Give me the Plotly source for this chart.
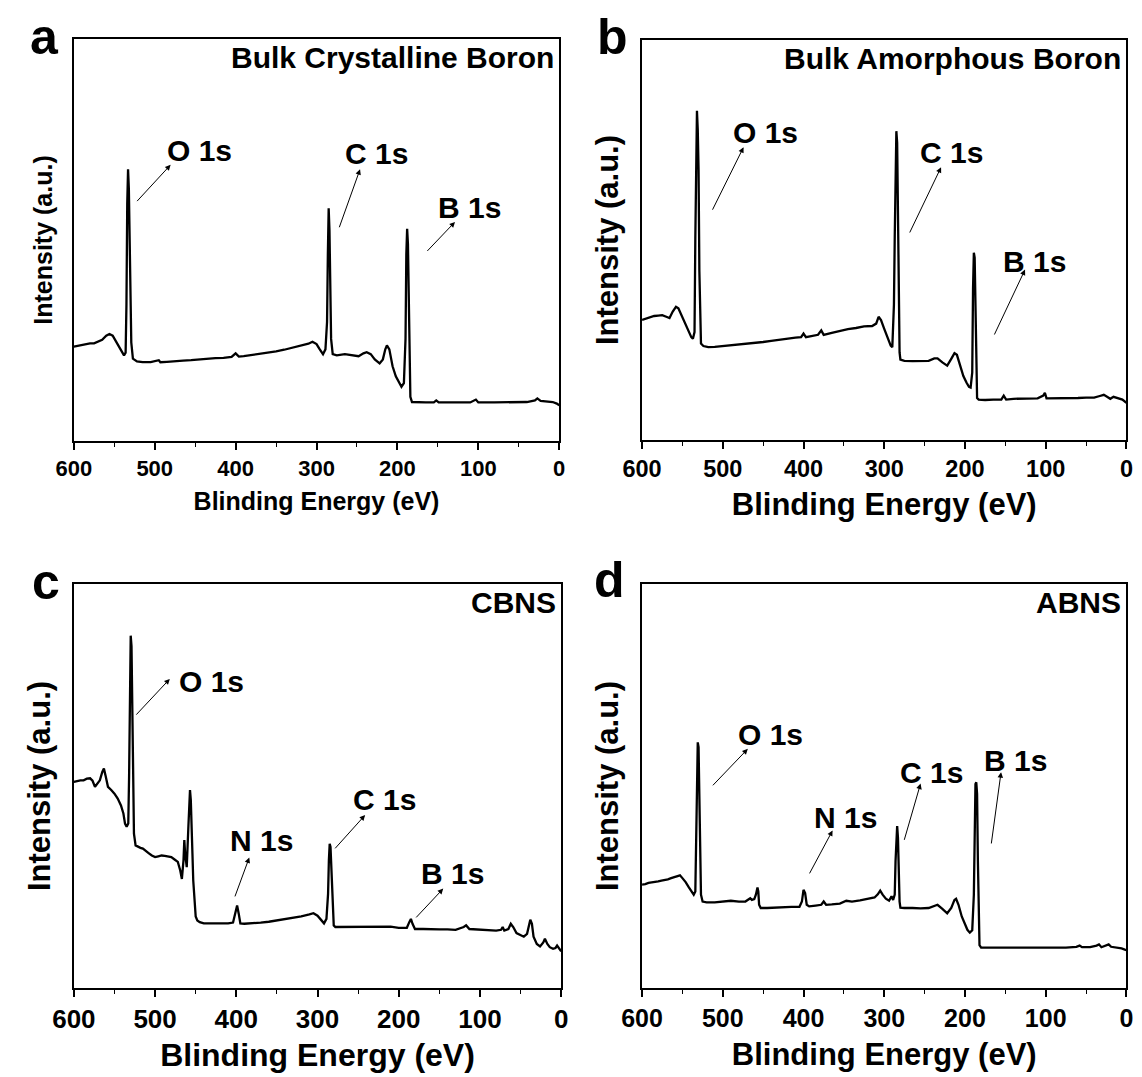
import plotly.graph_objects as go

# ---------------- data (binding energy in eV, intensity in a.u. normalised to frame) ----------------
a_x = [600, 595, 590, 585, 580, 575, 570, 565, 560, 556, 552, 548, 544, 540, 538, 536, 535, 534, 533, 532, 531, 530, 529,
       527, 522, 515, 505, 495, 493, 485, 475, 465, 455, 445, 435, 425, 415, 405, 400, 396, 390, 380, 370, 360, 350,
       340, 330, 320, 310, 305, 300, 296, 292, 289, 287, 286, 285, 284, 283, 282, 280, 275, 265, 255, 248, 242, 238,
       233, 228, 222, 218, 215, 213, 210, 206, 202, 198, 195, 192, 190, 189, 188, 187, 186, 185, 184, 182, 175, 165,
       155, 152, 149, 130, 110, 103, 100, 80, 60, 40, 30, 27, 23, 15, 8, 3, 0]
a_y = [0.235, 0.237, 0.239, 0.241, 0.243, 0.243, 0.247, 0.252, 0.262, 0.266, 0.262, 0.249, 0.235, 0.221, 0.213, 0.220,
       0.338, 0.592, 0.676, 0.626, 0.507, 0.355, 0.245, 0.205, 0.198, 0.196, 0.196, 0.201, 0.196, 0.197, 0.199, 0.200,
       0.201, 0.203, 0.205, 0.206, 0.207, 0.209, 0.218, 0.210, 0.211, 0.214, 0.216, 0.220, 0.223, 0.227, 0.232, 0.237,
       0.242, 0.247, 0.241, 0.228, 0.216, 0.228, 0.296, 0.465, 0.579, 0.524, 0.380, 0.254, 0.216, 0.213, 0.216, 0.213,
       0.211, 0.218, 0.221, 0.216, 0.203, 0.193, 0.203, 0.228, 0.238, 0.228, 0.186, 0.161, 0.144, 0.135, 0.144, 0.254,
       0.465, 0.528, 0.490, 0.338, 0.169, 0.110, 0.097, 0.096, 0.096, 0.096, 0.101, 0.096, 0.096, 0.096, 0.103, 0.096,
       0.096, 0.097, 0.097, 0.101, 0.106, 0.100, 0.098, 0.097, 0.093, 0.089]

b_x = [600, 595, 590, 585, 580, 575, 570, 566, 562, 558, 555, 551, 547, 543, 539, 537, 535, 534, 533, 532, 531, 530, 529,
       528, 527, 524, 518, 510, 500, 490, 480, 470, 460, 450, 440, 430, 420, 410, 403, 400, 397, 390, 382, 378, 375,
       365, 355, 345, 335, 325, 315, 310, 307, 304, 300, 296, 292, 290, 289, 288, 287, 286, 285, 284, 283, 282, 281,
       280, 275, 265, 255, 245, 238, 234, 228, 222, 217, 213, 210, 206, 202, 198, 195, 193, 191, 190, 189, 188, 187,
       186, 185, 183, 175, 165, 155, 152, 149, 140, 130, 120, 110, 103, 101, 99, 90, 80, 70, 60, 50, 40, 33, 28, 24,
       20, 16, 10, 5, 0]
b_y = [0.300, 0.304, 0.308, 0.310, 0.311, 0.312, 0.308, 0.305, 0.321, 0.333, 0.329, 0.312, 0.291, 0.274, 0.257, 0.253,
       0.270, 0.506, 0.759, 0.823, 0.776, 0.675, 0.422, 0.270, 0.241, 0.235, 0.232, 0.233, 0.235, 0.236, 0.239, 0.241,
       0.243, 0.245, 0.248, 0.251, 0.253, 0.256, 0.257, 0.266, 0.257, 0.260, 0.263, 0.274, 0.263, 0.268, 0.273, 0.277,
       0.280, 0.284, 0.285, 0.291, 0.308, 0.300, 0.278, 0.257, 0.236, 0.232, 0.287, 0.338, 0.506, 0.717, 0.772, 0.743,
       0.506, 0.295, 0.219, 0.201, 0.198, 0.197, 0.197, 0.198, 0.204, 0.204, 0.194, 0.186, 0.203, 0.217, 0.213, 0.186,
       0.160, 0.143, 0.133, 0.131, 0.169, 0.380, 0.468, 0.456, 0.338, 0.169, 0.105, 0.101, 0.100, 0.101, 0.101, 0.111,
       0.101, 0.103, 0.103, 0.104, 0.104, 0.111, 0.118, 0.104, 0.104, 0.104, 0.105, 0.105, 0.106, 0.106, 0.110, 0.113,
       0.108, 0.103, 0.108, 0.105, 0.101, 0.093]

c_x = [600, 596, 592, 588, 584, 580, 577, 574, 571, 568, 565, 563, 561, 558, 554, 550, 546, 542, 539, 537, 535, 533, 532,
       531, 530, 529, 528, 527, 526, 524, 521, 518, 515, 512, 508, 504, 500, 496, 492, 488, 484, 480, 476, 472, 469,
       467, 465, 464, 463, 461, 459, 458, 457, 456, 455, 454, 453, 452, 451, 450, 448, 445, 440, 430, 420, 410, 404,
       401, 399, 397, 395, 390, 380, 370, 360, 350, 340, 330, 320, 310, 305, 300, 296, 292, 289, 287, 286, 285, 284,
       283, 282, 281, 280, 278, 270, 260, 250, 240, 230, 220, 210, 200, 190, 187, 185, 183, 180, 170, 160, 150, 140,
       130, 120, 117, 113, 100, 90, 80, 74, 72, 70, 65, 62, 59, 55, 50, 46, 42, 40, 38, 36, 34, 30, 26, 22, 20, 17,
       14, 10, 7, 5, 3, 0]
c_y = [0.510, 0.513, 0.514, 0.514, 0.518, 0.519, 0.513, 0.498, 0.505, 0.514, 0.535, 0.543, 0.526, 0.498, 0.490, 0.481,
       0.469, 0.452, 0.432, 0.407, 0.399, 0.407, 0.523, 0.730, 0.872, 0.846, 0.647, 0.440, 0.382, 0.353, 0.349, 0.347,
       0.345, 0.341, 0.334, 0.328, 0.324, 0.326, 0.328, 0.327, 0.326, 0.324, 0.318, 0.312, 0.291, 0.270, 0.316, 0.366,
       0.333, 0.299, 0.399, 0.481, 0.490, 0.465, 0.415, 0.333, 0.266, 0.233, 0.200, 0.177, 0.167, 0.163, 0.160, 0.160,
       0.160, 0.160, 0.162, 0.184, 0.204, 0.184, 0.160, 0.159, 0.160, 0.162, 0.164, 0.167, 0.170, 0.174, 0.177, 0.182,
       0.185, 0.179, 0.169, 0.160, 0.171, 0.233, 0.316, 0.357, 0.349, 0.299, 0.233, 0.184, 0.155, 0.151, 0.151, 0.151,
       0.151, 0.151, 0.152, 0.151, 0.152, 0.149, 0.149, 0.163, 0.171, 0.159, 0.146, 0.146, 0.145, 0.145, 0.145, 0.144,
       0.151, 0.155, 0.146, 0.144, 0.144, 0.142, 0.144, 0.151, 0.142, 0.146, 0.159, 0.151, 0.136, 0.130, 0.127, 0.134,
       0.155, 0.169, 0.159, 0.127, 0.109, 0.103, 0.113, 0.122, 0.109, 0.101, 0.097, 0.099, 0.105, 0.099, 0.091]

d_x = [600, 596, 592, 588, 584, 580, 576, 572, 568, 564, 560, 556, 553, 550, 546, 542, 539, 536, 534, 533, 532, 531, 530,
       529, 528, 527, 525, 520, 510, 500, 490, 480, 472, 466, 464, 461, 459, 457, 456, 455, 453, 445, 435, 425, 415,
       405, 402, 400, 398, 396, 393, 385, 378, 375, 372, 365, 355, 347, 340, 330, 320, 312, 308, 305, 302, 298, 294,
       291, 289, 287, 286, 285, 284, 283, 282, 281, 280, 275, 265, 255, 245, 238, 234, 228, 222, 217, 213, 211, 208,
       204, 200, 197, 194, 191, 189, 188, 187, 186, 185, 184, 183, 182, 180, 175, 165, 155, 145, 135, 125, 115, 105,
       95, 85, 75, 62, 58, 55, 45, 37, 34, 31, 25, 22, 19, 12, 6, 2, 0]
d_y = [0.256, 0.257, 0.260, 0.261, 0.262, 0.264, 0.266, 0.267, 0.269, 0.272, 0.274, 0.277, 0.279, 0.272, 0.262, 0.249,
       0.239, 0.231, 0.239, 0.397, 0.563, 0.608, 0.596, 0.479, 0.314, 0.231, 0.214, 0.212, 0.212, 0.214, 0.216, 0.214,
       0.214, 0.222, 0.218, 0.220, 0.231, 0.249, 0.239, 0.206, 0.198, 0.198, 0.199, 0.201, 0.201, 0.201, 0.214, 0.243,
       0.235, 0.206, 0.202, 0.204, 0.206, 0.214, 0.206, 0.207, 0.209, 0.216, 0.214, 0.217, 0.221, 0.224, 0.232, 0.241,
       0.231, 0.221, 0.216, 0.227, 0.218, 0.231, 0.314, 0.380, 0.401, 0.372, 0.272, 0.214, 0.199, 0.198, 0.198, 0.197,
       0.198, 0.204, 0.206, 0.196, 0.185, 0.198, 0.218, 0.221, 0.206, 0.177, 0.156, 0.144, 0.137, 0.143, 0.231, 0.438,
       0.505, 0.509, 0.480, 0.314, 0.148, 0.106, 0.100, 0.100, 0.100, 0.100, 0.100, 0.100, 0.100, 0.100, 0.100, 0.100,
       0.100, 0.100, 0.102, 0.105, 0.101, 0.101, 0.105, 0.108, 0.101, 0.105, 0.108, 0.102, 0.100, 0.098, 0.095, 0.094]

panel_titles = ["Bulk Crystalline Boron", "Bulk Amorphous Boron", "CBNS", "ABNS"]
panel_letters = ["a", "b", "c", "d"]
x_title = "Blinding Energy (eV)"
y_title = "Intensity (a.u.)"
x_tickvals = [600, 500, 400, 300, 200, 100, 0]
x_ticktext = ["600", "500", "400", "300", "200", "100", "0"]

# peak labels: (text, label x, label y, arrow tail x, tail y, arrow head x, head y)
peak_labels = [
    [("O 1s", 445, 0.723, 523.5, 0.593, 480.4, 0.687),
     ("C 1s", 226.4, 0.714, 272.5, 0.528, 246.2, 0.676),
     ("B 1s", 110.3, 0.581, 164.8, 0.469, 128.8, 0.545)],
    [("O 1s", 446.6, 0.768, 513.6, 0.572, 474.3, 0.732),
     ("C 1s", 217.3, 0.719, 269.3, 0.515, 229.6, 0.682),
     ("B 1s", 113.7, 0.447, 164.4, 0.260, 125.6, 0.426)],
    [("O 1s", 430.8, 0.758, 524.8, 0.673, 481.9, 0.765),
     ("N 1s", 369.5, 0.366, 402.3, 0.223, 384.0, 0.323),
     ("C 1s", 217.8, 0.467, 279.9, 0.342, 241.4, 0.428),
     ("B 1s", 133.4, 0.283, 180.2, 0.171, 145.2, 0.246)],
    [("O 1s", 441.2, 0.627, 514.0, 0.498, 469.0, 0.592),
     ("N 1s", 347.6, 0.423, 393.5, 0.280, 364.0, 0.390),
     ("C 1s", 241.3, 0.534, 275.7, 0.363, 255.0, 0.506),
     ("B 1s", 137.6, 0.564, 167.6, 0.354, 155.3, 0.534)],
]

# ---------------- layout geometry ----------------
W, H = 1142, 1077
OFF = 8  # the page body margin shifts the chart by 8 px
FONT = "Liberation Sans, Arial, Helvetica, sans-serif"
# frames in page pixels: (left, right, top, bottom)
frames = [(53, 551, 39, 441), (636, 1133, 40, 440), (53, 553, 584, 988), (636, 1133, 584, 988)]
tick_sizes = [22, 23.5, 26, 25]
xtitle_sizes = [25, 31, 32, 31]
ytitle_sizes = [25, 31, 31, 31]
xtitle_standoff = [12, 12, 11, 12]
letter_pos = [(23, 37), (606, 37), (24, 582), (603, 580)]

xs = [a_x, b_x, c_x, d_x]
ys = [a_y, b_y, c_y, d_y]

fig = go.Figure()
annotations = []
for i in range(4):
    sfx = "" if i == 0 else str(i + 1)
    xa, ya = "x" + sfx, "y" + sfx
    fig.add_trace(go.Scatter(x=xs[i], y=ys[i], mode="lines", xaxis=xa, yaxis=ya,
                             line=dict(color="black", width=2.3), showlegend=False,
                             hoverinfo="skip"))
    l, r, t, b = [v - OFF for v in frames[i]]
    xdom = [l / W, r / W]
    ydom = [1 - b / H, 1 - t / H]
    fig.layout["xaxis" + sfx] = dict(
        domain=xdom, anchor=ya, range=[600, 0], showgrid=False, zeroline=False,
        showline=True, linecolor="black", linewidth=1.8, mirror=True,
        ticks="outside", ticklen=7, tickwidth=1.6, tickcolor="black",
        tickvals=x_tickvals, ticktext=x_ticktext,
        minor=dict(ticks="outside", ticklen=4, tickwidth=1.4, tickcolor="black", dtick=50, tick0=0),
        tickfont=dict(family=FONT, size=tick_sizes[i], color="black", weight="bold"),
        title=dict(text=x_title, standoff=xtitle_standoff[i],
                   font=dict(family=FONT, size=xtitle_sizes[i], color="black", weight="bold")),
    )
    fig.layout["yaxis" + sfx] = dict(
        domain=ydom, anchor=xa, range=[0, 1], showgrid=False, zeroline=False,
        showline=True, linecolor="black", linewidth=1.8, mirror=True,
        ticks="", showticklabels=False,
        title=dict(text=y_title, standoff=12,
                   font=dict(family=FONT, size=ytitle_sizes[i], color="black", weight="bold")),
    )
    annotations.append(dict(text=panel_titles[i], xref=xa + " domain", yref=ya + " domain",
                            x=0.993, y=0.953, xanchor="right", yanchor="middle", showarrow=False,
                            font=dict(family=FONT, size=30, color="black", weight="bold")))
    lx, ly = letter_pos[i]
    annotations.append(dict(text=panel_letters[i], xref="paper", yref="paper",
                            x=(lx - OFF) / W, y=1 - (ly - OFF) / H, xanchor="center", yanchor="middle",
                            showarrow=False,
                            font=dict(family=FONT, size=50, color="black", weight="bold")))
    for (txt, tx, ty, ax0, ay0, hx, hy) in peak_labels[i]:
        annotations.append(dict(text=txt, xref=xa, yref=ya, x=tx, y=ty, showarrow=False,
                                xanchor="center", yanchor="middle",
                                font=dict(family=FONT, size=30, color="black", weight="bold")))
        annotations.append(dict(text="", xref=xa, yref=ya, x=hx, y=hy, ax=ax0, ay=ay0,
                                axref=xa, ayref=ya, showarrow=True, arrowhead=2, arrowsize=1.1,
                                arrowwidth=1, arrowcolor="black", standoff=0, startstandoff=0))

fig.update_layout(width=W, height=H, margin=dict(l=0, r=0, t=0, b=0),
                  paper_bgcolor="white", plot_bgcolor="white", annotations=annotations,
                  font=dict(family=FONT, color="black"))
fig.write_html("out.html")
